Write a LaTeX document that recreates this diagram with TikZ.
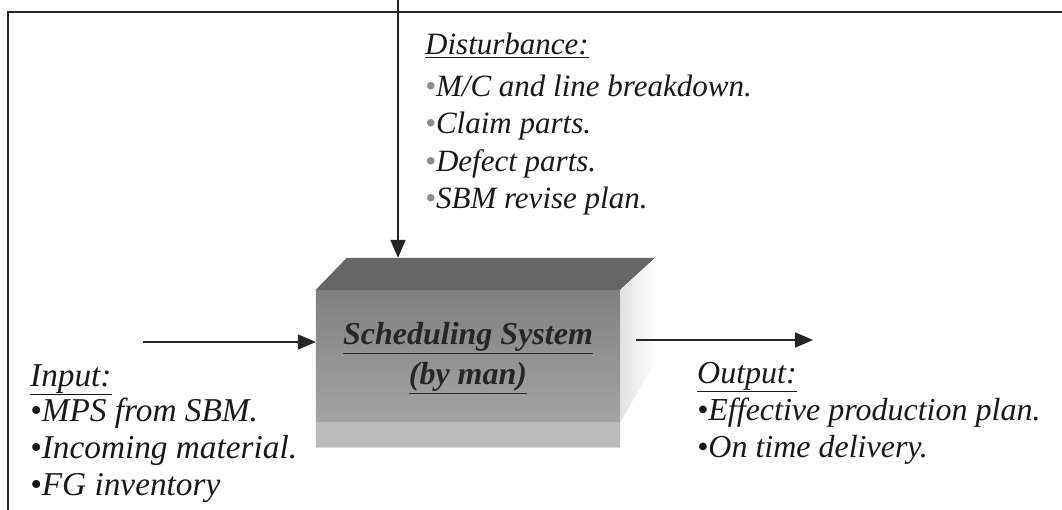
\documentclass[tikz,border=0pt]{standalone}
\usepackage{fontspec}
\setmainfont{Liberation Serif}
\usetikzlibrary{arrows.meta}
\begin{document}
\begin{tikzpicture}[x=1pt,y=-1pt,
  frameline/.style={line width=1.6pt, black!85},
  flow/.style={line width=1.8pt, black!85, -{Triangle[length=18pt,width=15pt]}},
  lbl/.style={anchor=base west, inner sep=0pt, font=\itshape\fontsize{32}{36}\selectfont, text=black!90},
  ilbl/.style={lbl, font=\itshape\fontsize{33.3}{37}\selectfont},
  dlbl/.style={lbl, font=\itshape\fontsize{31}{35}\selectfont},
  boxtext/.style={font=\bfseries\itshape\fontsize{32}{38}\selectfont, text=black!85, align=center}]
\useasboundingbox (0,0) rectangle (1062,510);
\fill[white] (0,0) rectangle (1062,510);

% outer frame (top and left edges)
\draw[frameline] (8,510) -- (8,12) -- (1062,12);

% the block: front face
\node[minimum width=304pt, minimum height=132pt, inner sep=0pt] (sys) at (468,356) {};
\shade[top color=black!50, bottom color=black!33] (sys.north west) rectangle ([yshift=-25pt]sys.south east);
\fill[black!27] ([yshift=-25pt]sys.south west) rectangle (sys.south east);
\draw[white!85!black, line width=0.6pt] ([yshift=-25pt]sys.south west) -- ([yshift=-25pt]sys.south east);
% top face
\coordinate (tbl) at ([shift={(31,-32)}]sys.north west);
\coordinate (tbr) at ([shift={(35,-32)}]sys.north east);
\fill[black!60] (sys.north west) -- (tbl) -- (tbr) -- (sys.north east) -- cycle;
% right face
\shade[left color=black!12, right color=white] (sys.north east) -- (tbr) -- ([yshift=60pt]tbr |- sys.south east) -- (sys.south east) -- cycle;
\node[boxtext] (systxt) at (468,358) {\underline{Scheduling System}\\[2pt]\underline{(by man)}};

% connectors
\coordinate (dsrc) at (398,0);
\coordinate (isrc) at (143,342);
\coordinate (odst) at (813,340);
\draw[flow] (dsrc) -- (dsrc |- tbl);
\draw[flow] (isrc) -- (isrc -| sys.west);
\draw[flow] (odst -| 636,0) -- (odst);

% disturbance list
\node[dlbl] (d0) at (425,55) {\underline{Disturbance:}};
\node[dlbl] (d1) at (425,97) {\textcolor{black!45}{•}M/C and line breakdown.};
\node[dlbl] (d2) at (425,134) {\textcolor{black!45}{•}Claim parts.};
\node[dlbl] (d3) at (425,172) {\textcolor{black!45}{•}Defect parts.};
\node[dlbl] (d4) at (425,209) {\textcolor{black!45}{•}SBM revise plan.};

% input list
\node[ilbl] (i0) at (30,386) {\underline{Input:}};
\node[ilbl] (i1) at (30,421) {•MPS from SBM.};
\node[ilbl] (i2) at (30,458) {•Incoming material.};
\node[ilbl] (i3) at (30,495) {•FG inventory};

% output list
\node[lbl] (o0) at (697,383) {\underline{Output:}};
\node[lbl] (o1) at (697,420) {•Effective production plan.};
\node[lbl] (o2) at (697,457) {•On time delivery.};
\end{tikzpicture}
\end{document}
